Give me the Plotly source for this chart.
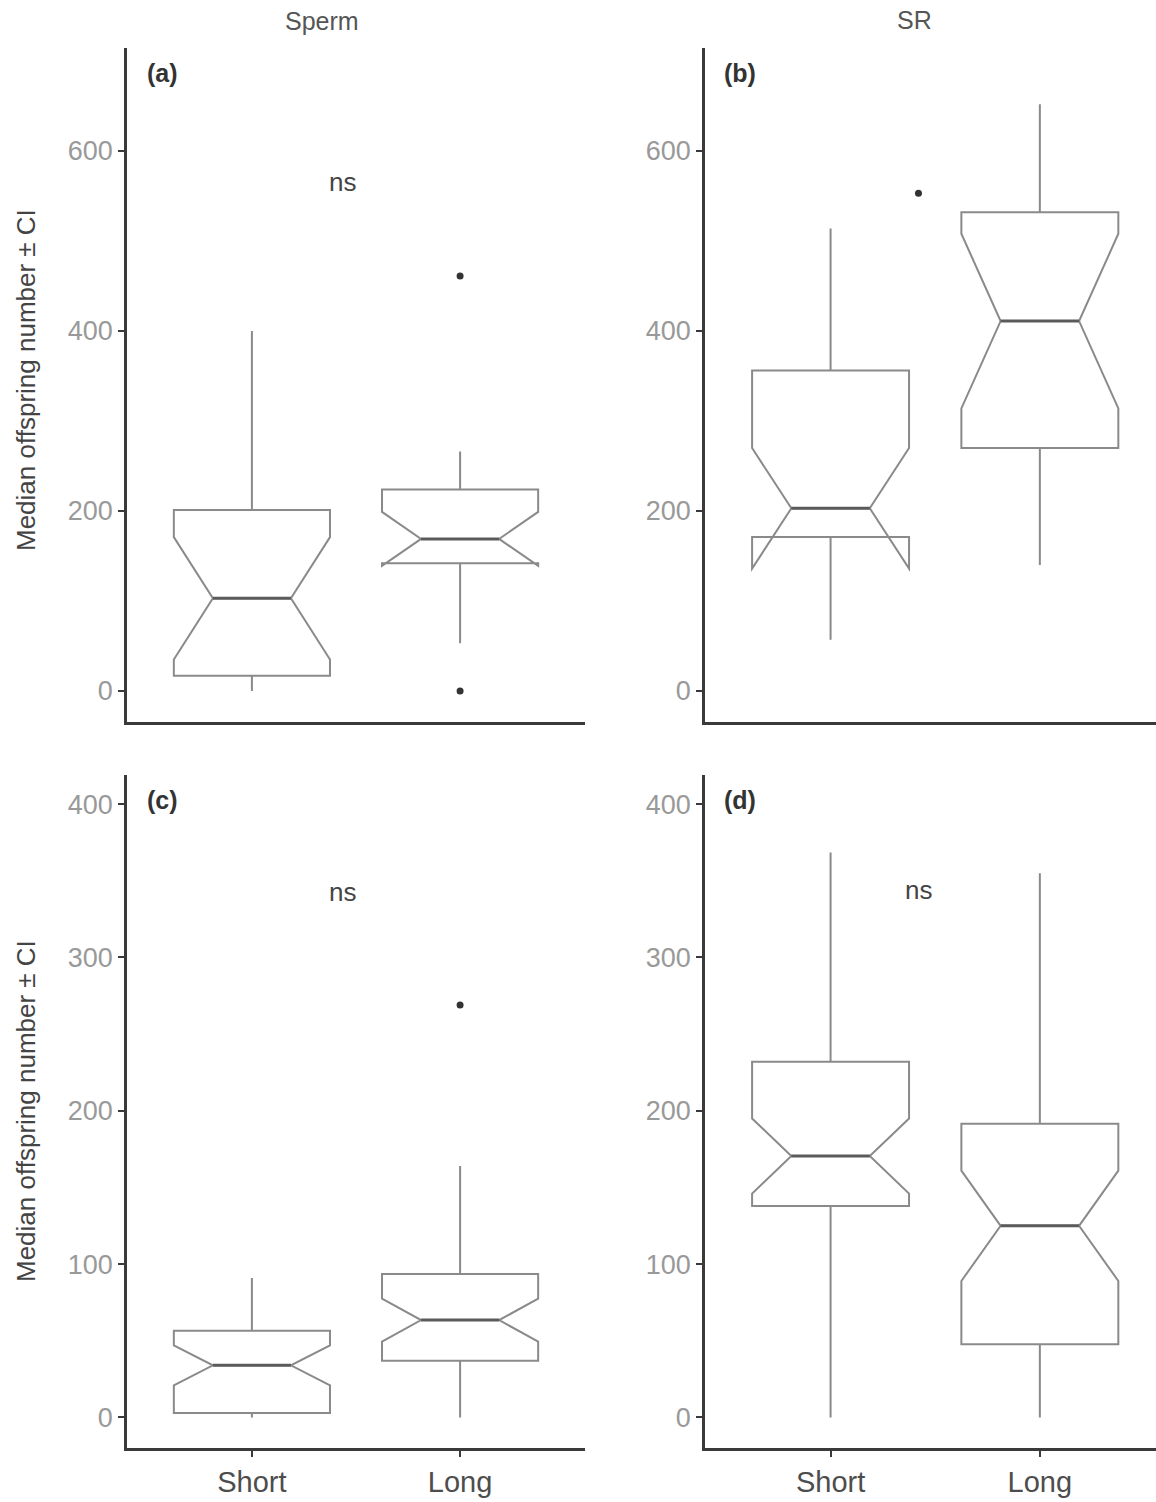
import plotly.graph_objects as go

# ---------------- data ----------------
categories = ["Short", "Long"]
cat_pos = [0, 1]

# panel (a) Sperm, top
a_lowerfence = [0, 53]
a_q1 = [17, 142]
a_median = [103, 169]
a_q3 = [201, 224]
a_upperfence = [400, 266]
a_notchspan = [68, 30]
a_out_x = [1, 1]
a_out_y = [461, 0]

# panel (b) SR, top
b_lowerfence = [57, 140]
b_q1 = [171, 270]
b_median = [203, 411]
b_q3 = [356, 532]
b_upperfence = [514, 652]
b_notchspan = [67, 97]
b_out_x = [0.42]
b_out_y = [553]

# panel (c) Sperm, bottom
c_lowerfence = [0, 0]
c_q1 = [3, 37]
c_median = [34, 63.5]
c_q3 = [56.5, 93.5]
c_upperfence = [91, 164]
c_notchspan = [13, 14]
c_out_x = [1]
c_out_y = [269]

# panel (d) SR, bottom
d_lowerfence = [0, 0]
d_q1 = [138, 47.7]
d_median = [170.5, 125]
d_q3 = [232, 191.5]
d_upperfence = [368.5, 355]
d_notchspan = [24.5, 36]

top_ticks = [0, 200, 400, 600]
bottom_ticks = [0, 100, 200, 300, 400]

# ---------------- styling ----------------
W, H = 1156, 1502
FONT = "Liberation Sans, Arial, sans-serif"
BOX_COLOR = "#8a8a8a"
MED_COLOR = "#5a5a5a"
AXIS_COLOR = "#3a3a3a"
PT_COLOR = "#333333"
BOX_WIDTH = 0.75
NOTCH_W = 0.25

fig = go.Figure()

panels = [
    ("x", "y", a_lowerfence, a_q1, a_median, a_q3, a_upperfence, a_notchspan, a_out_x, a_out_y),
    ("x2", "y2", b_lowerfence, b_q1, b_median, b_q3, b_upperfence, b_notchspan, b_out_x, b_out_y),
    ("x3", "y3", c_lowerfence, c_q1, c_median, c_q3, c_upperfence, c_notchspan, c_out_x, c_out_y),
    ("x4", "y4", d_lowerfence, d_q1, d_median, d_q3, d_upperfence, d_notchspan, [], []),
]

half_med = BOX_WIDTH / 2 * (1 - 2 * NOTCH_W)

for xa, ya, lf, q1, med, q3, uf, nsp, ox, oy in panels:
    fig.add_trace(go.Box(
        x=cat_pos, q1=q1, median=med, q3=q3,
        lowerfence=lf, upperfence=uf, notchspan=nsp,
        notched=True, notchwidth=NOTCH_W, width=BOX_WIDTH, whiskerwidth=0,
        boxpoints=False,
        line=dict(color=BOX_COLOR, width=2),
        fillcolor="rgba(0,0,0,0)",
        xaxis=xa, yaxis=ya, showlegend=False, hoverinfo="skip",
    ))
    # darker median segments
    mx, my = [], []
    for p, m in zip(cat_pos, med):
        mx += [p - half_med, p + half_med, None]
        my += [m, m, None]
    fig.add_trace(go.Scatter(
        x=mx, y=my, mode="lines", line=dict(color=MED_COLOR, width=3),
        xaxis=xa, yaxis=ya, showlegend=False, hoverinfo="skip",
    ))
    if ox:
        fig.add_trace(go.Scatter(
            x=ox, y=oy, mode="markers",
            marker=dict(color=PT_COLOR, size=7),
            xaxis=xa, yaxis=ya, showlegend=False,
        ))

# domains from pixel layout
def xdom(l, r):
    return [l / W, min(r / W, 1.0)]

def ydom(top, bottom):
    return [1 - bottom / H, 1 - top / H]

common_x = dict(showline=True, linecolor=AXIS_COLOR, linewidth=2.5, showgrid=False,
                zeroline=False, tickvals=cat_pos, ticktext=categories)
common_y = dict(showline=True, linecolor=AXIS_COLOR, linewidth=2.5, showgrid=False,
                zeroline=False, ticks="outside", ticklen=6, tickwidth=2,
                tickcolor=AXIS_COLOR, tickfont=dict(family=FONT, size=27, color="#999999"))

top_range = [-34.4, 714.4]
bot_range = [-19.9, 419]

xt_font = dict(family=FONT, size=29, color="#4d4d4d")

fig.update_layout(
    width=W, height=H,
    margin=dict(l=0, r=0, t=0, b=0),
    paper_bgcolor="white", plot_bgcolor="white",
    font=dict(family=FONT),
    xaxis=dict(common_x, domain=xdom(127, 585), range=[-0.6, 1.6], anchor="y",
               showticklabels=False, ticks=""),
    yaxis=dict(common_y, domain=ydom(48, 722), range=top_range, anchor="x", tickvals=top_ticks),
    xaxis2=dict(common_x, domain=xdom(705, 1156), range=[-0.6, 1.555], anchor="y2",
                showticklabels=False, ticks=""),
    yaxis2=dict(common_y, domain=ydom(48, 722), range=top_range, anchor="x2", tickvals=top_ticks),
    xaxis3=dict(common_x, domain=xdom(127, 585), range=[-0.6, 1.6], anchor="y3",
                ticks="outside", ticklen=6, tickwidth=2, tickcolor=AXIS_COLOR, tickfont=xt_font),
    yaxis3=dict(common_y, domain=ydom(775, 1448), range=bot_range, anchor="x3", tickvals=bottom_ticks),
    xaxis4=dict(common_x, domain=xdom(705, 1156), range=[-0.6, 1.555], anchor="y4",
                ticks="outside", ticklen=6, tickwidth=2, tickcolor=AXIS_COLOR, tickfont=xt_font),
    yaxis4=dict(common_y, domain=ydom(775, 1448), range=bot_range, anchor="x4", tickvals=bottom_ticks),
)

def ann(text, px, py, size, color, angle=0, xanchor="center"):
    fig.add_annotation(text=text, xref="paper", yref="paper",
                       x=px / W, y=1 - py / H, showarrow=False,
                       xanchor=xanchor, yanchor="middle", textangle=angle,
                       font=dict(family=FONT, size=size, color=color))

# column titles
ann("Sperm", 322, 21, 25, "#555555")
ann("SR", 914, 20, 25, "#555555")
# y titles
ann("Median offspring number ± CI", 26, 380, 26, "#444444", angle=-90)
ann("Median offspring number ± CI", 26, 1111, 26, "#444444", angle=-90)
# panel labels
ann("<b>(a)</b>", 145, 73, 25, "#333333", xanchor="left")
ann("<b>(b)</b>", 722, 73, 25, "#333333", xanchor="left")
ann("<b>(c)</b>", 145, 800, 25, "#333333", xanchor="left")
ann("<b>(d)</b>", 722, 800, 25, "#333333", xanchor="left")
# significance labels
ann("ns", 342, 182, 26, "#444444")
ann("ns", 342, 892, 26, "#444444")
ann("ns", 918, 890, 26, "#444444")

fig.write_html("out.html", config={"displayModeBar": False},
               post_script="document.body.style.margin='0px';")
